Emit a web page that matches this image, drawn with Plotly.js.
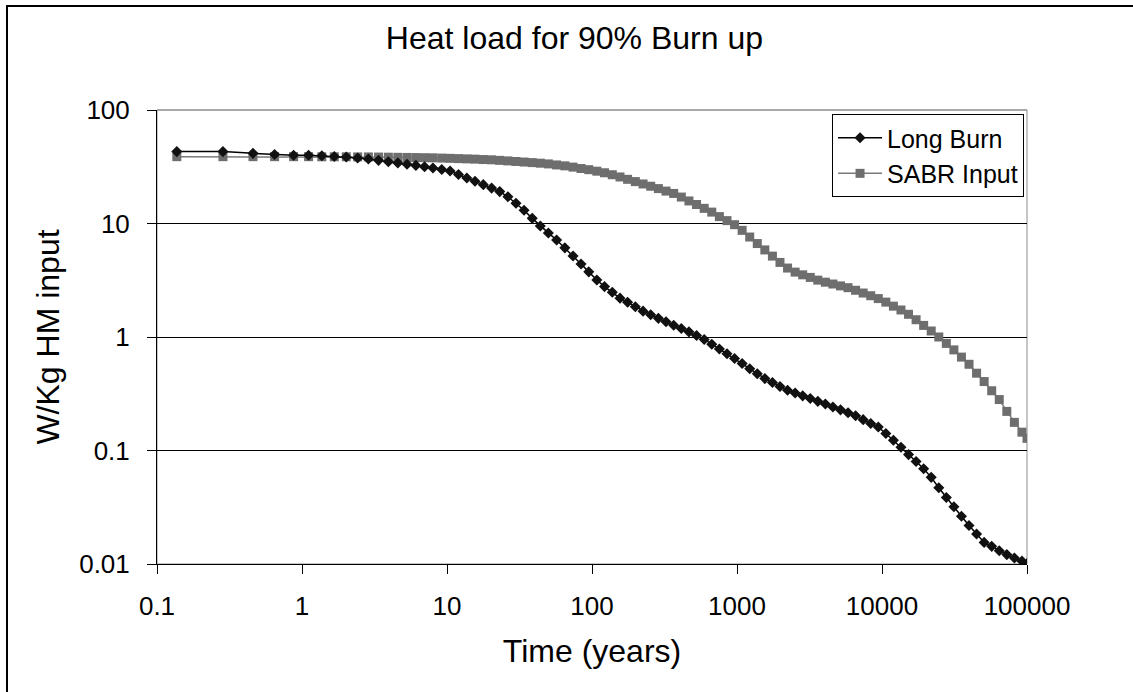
<!DOCTYPE html>
<html>
<head>
<meta charset="utf-8">
<script src="https://cdn.plot.ly/plotly-3.0.1.min.js"></script>
<style>
  html, body { margin: 0; padding: 0; background: #fff; }
  #chart { width: 1133px; height: 692px; }
</style>
</head>
<body>
<div id="chart"></div>
<script>
// Time (years)
const timeYears = [0.137, 0.285, 0.459, 0.647, 0.875, 1.11, 1.37, 1.67, 2.02, 2.42, 2.87, 3.37, 3.94, 4.58, 5.3, 6.1, 7.0, 8.0, 9.2,
  10.5, 12.0, 13.7, 15.6, 17.8, 20.3, 23.1, 26.3, 29.9, 34.0, 38.7, 44, 50, 57, 65, 74, 84, 95,
  108, 122, 138, 156, 176, 199, 225, 254, 287, 324, 366, 413, 466, 526, 594, 670, 756, 853, 962,
  1085, 1224, 1380, 1556, 1755, 1979, 2232, 2517, 2838, 3200, 3608, 4068, 4587, 5172, 5832, 6576, 7415, 8361, 9428,
  10631, 11987, 13516, 15240, 17184, 19376, 21848, 24635, 27777, 31320, 35315, 39820, 44900, 50627, 57085, 64367, 72578, 81836, 92275, 100000];

// W/Kg HM input — Long Burn
const longBurn = [43, 43, 41.5, 40.5, 40, 40, 39.5, 39, 38.5, 37.8, 37, 36, 35, 34.2, 33.3, 32.5, 31.6, 30.8, 29.9,
  29, 27.0, 25.2, 23.6, 22.0, 20.5, 19.1, 17.2, 15.1, 13.1, 11.1, 9.5, 8.26, 7.15, 6.1, 5.17, 4.4, 3.75,
  3.18, 2.78, 2.48, 2.2, 2.02, 1.85, 1.69, 1.57, 1.46, 1.36, 1.27, 1.19, 1.11, 1.03, 0.951, 0.864, 0.784, 0.712, 0.647,
  0.584, 0.526, 0.474, 0.43, 0.397, 0.367, 0.34, 0.321, 0.303, 0.287, 0.271, 0.257, 0.242, 0.228, 0.215, 0.202, 0.187, 0.173, 0.161,
  0.141, 0.123, 0.107, 0.092, 0.080, 0.069, 0.058, 0.047, 0.0385, 0.0319, 0.0263, 0.0218, 0.0184, 0.0155, 0.0143, 0.0131, 0.0121, 0.0113, 0.0106, 0.0101];

// W/Kg HM input — SABR Input
const sabrInput = [38.8, 38.8, 38.8, 38.8, 38.8, 38.8, 38.7, 38.7, 38.7, 38.6, 38.6, 38.5, 38.4, 38.3, 38.2, 38.1, 38.0, 37.9, 37.7,
  37.5, 37.3, 37.1, 36.9, 36.6, 36.4, 36.0, 35.6, 35.2, 34.8, 34.4, 34.0, 33.5, 32.8, 32.2, 31.4, 30.5, 29.8,
  28.9, 28.0, 26.9, 25.7, 24.5, 23.4, 22.3, 21.3, 20.3, 19.3, 18.4, 17.1, 15.8, 14.7, 13.6, 12.6, 11.5, 10.6, 9.76,
  8.7, 7.6, 6.66, 5.85, 5.16, 4.54, 4.05, 3.73, 3.53, 3.35, 3.17, 3.04, 2.93, 2.82, 2.72, 2.58, 2.44, 2.31, 2.18,
  2.03, 1.87, 1.73, 1.585, 1.42, 1.265, 1.13, 1.0, 0.878, 0.77, 0.665, 0.575, 0.48, 0.405, 0.336, 0.281, 0.221, 0.177, 0.145, 0.128];

const seriesNames = ["Long Burn", "SABR Input"];
const xTickVals = [0.1, 1, 10, 100, 1000, 10000, 100000];
const xTickText = ["0.1", "1", "10", "100", "1000", "10000", "100000"];
const yTickVals = [0.01, 0.1, 1, 10, 100];
const yTickText = ["0.01", "0.1", "1", "10", "100"];

const FONT = "Liberation Sans, Arial, sans-serif";

const traces = [
  {
    x: timeYears, y: sabrInput, name: seriesNames[1], type: "scatter", mode: "lines+markers",
    line: { color: "#7a7a7a", width: 1.5 },
    marker: { symbol: "square", size: 9, color: "#6e6e6e" }
  },
  {
    x: timeYears, y: longBurn, name: seriesNames[0], type: "scatter", mode: "lines+markers",
    line: { color: "#000000", width: 1.5 },
    marker: { symbol: "diamond", size: 8.5, color: "#111111" }
  }
];

const layout = {
  width: 1133, height: 692,
  margin: { l: 157, r: 106, t: 110, b: 128, pad: 0 },
  paper_bgcolor: "#ffffff", plot_bgcolor: "#ffffff",
  font: { family: FONT, color: "#000000", size: 26 },
  title: {
    text: "Heat load for 90% Burn up",
    font: { family: FONT, size: 32, color: "#000" },
    x: 0.507, xanchor: "center", xref: "container",
    y: 1 - 38 / 692, yanchor: "middle", yref: "container"
  },
  xaxis: {
    type: "log", range: [-1, 5],
    tickvals: xTickVals, ticktext: xTickText,
    ticks: "outside", ticklen: 9, tickwidth: 1, tickcolor: "#000",
    showline: true, linecolor: "#000", linewidth: 1, mirror: false,
    showgrid: false, zeroline: false,
    tickfont: { family: FONT, size: 26, color: "#000" },
    ticklabelstandoff: 10,
    title: { text: "Time (years)", font: { family: FONT, size: 32, color: "#000" }, standoff: 19 }
  },
  yaxis: {
    type: "log", range: [-2, 2],
    tickvals: yTickVals, ticktext: yTickText,
    ticks: "outside", ticklen: 9, tickwidth: 1, tickcolor: "#000",
    showline: true, linecolor: "#000", linewidth: 1, mirror: false,
    showgrid: true, gridcolor: "#000", gridwidth: 1, zeroline: false,
    tickfont: { family: FONT, size: 26, color: "#000" },
    ticklabelstandoff: 12,
    title: { text: "W/Kg HM input", font: { family: FONT, size: 32, color: "#000" }, standoff: 9 }
  },
  legend: {
    x: 0.9966, xanchor: "right", y: 0.991, yanchor: "top",
    bgcolor: "#ffffff", bordercolor: "#000", borderwidth: 1,
    font: { family: FONT, size: 25, color: "#000" },
    itemwidth: 44,
    traceorder: "reversed"
  },
  showlegend: true,
  hovermode: false,
  shapes: [
    { type: "rect", xref: "paper", yref: "paper", x0: 0, x1: 1, y0: 0, y1: 1,
      line: { color: "#8c8c8c", width: 1 }, layer: "below" },
    { type: "line", xref: "paper", yref: "paper", x0: 0.0005, x1: 1, y0: 1, y1: 1,
      line: { color: "#8c8c8c", width: 1 }, layer: "above" },
    { type: "rect", xref: "paper", yref: "paper",
      x0: (7 - 157) / 870, x1: 3, y0: -3, y1: (564 - 6) / 454,
      line: { color: "#000", width: 2 }, layer: "below" }
  ]
};

Plotly.newPlot("chart", traces, layout, { staticPlot: true, displayModeBar: false });
</script>
</body>
</html>
